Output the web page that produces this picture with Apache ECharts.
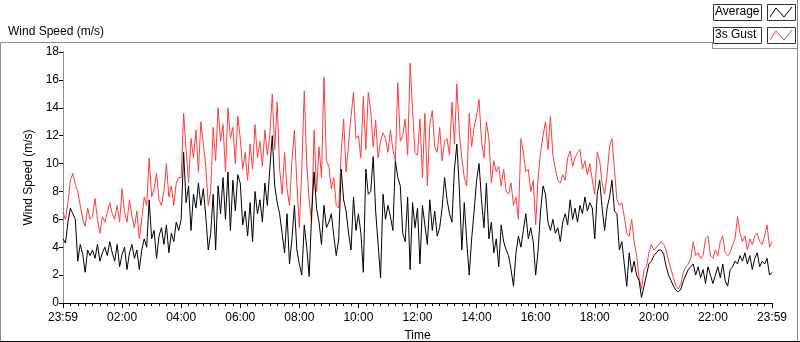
<!DOCTYPE html>
<html>
<head>
<meta charset="utf-8">
<script src="https://cdn.jsdelivr.net/npm/echarts@6/dist/echarts.min.js"></script>
<style>
  html, body { margin: 0; padding: 0; background: #fff; }
  #chart { width: 800px; height: 342px; }
</style>
</head>
<body>
<div id="chart"></div>
<script>
// one sample every 5 minutes, starting at 23:59 of the previous day
const SAMPLE_MINUTES = 5;

// 3s gust (m/s), one row per hour
const gust = [
    6.5, 6.0, 7.2, 8.8, 9.3, 8.5, 8.0, 7.0, 6.0, 5.5, 6.8, 6.0,
    6.2, 7.5, 6.0, 5.0, 6.2, 5.8, 6.5, 7.2, 6.4, 6.0, 7.0, 5.8,
    8.2, 6.5, 5.8, 7.4, 6.2, 5.4, 6.6, 4.6, 6.0, 7.6, 7.0, 10.4,
    7.6, 8.2, 9.3, 7.4, 7.0, 8.0, 10.0, 7.6, 8.4, 7.0, 8.6, 9.0,
    9.0, 13.6, 11.0, 8.6, 11.8, 10.4, 12.4, 9.4, 13.0, 11.4, 9.8, 7.0,
    8.0, 12.6, 10.2, 14.0, 11.6, 12.8, 9.4, 14.0, 11.8, 12.6, 10.0, 13.4,
    11.8, 9.6, 10.8, 8.8, 11.4, 9.6, 12.8, 10.4, 11.6, 9.8, 12.4, 10.6,
    12.0, 15.0, 11.0, 14.4, 9.6, 7.8, 10.8, 8.2, 7.0, 10.2, 12.4, 8.6,
    5.4, 9.6, 15.2, 10.0, 7.4, 5.8, 12.4, 8.0, 11.2, 9.0, 16.2, 10.2,
    9.8, 8.2, 9.0, 7.0, 6.8, 10.8, 13.2, 9.4, 11.4, 13.4, 15.1, 11.8,
    12.0, 10.4, 14.8, 11.0, 15.1, 13.8, 11.2, 13.1, 10.4, 11.6, 12.2, 11.8,
    10.8, 12.4, 11.0, 10.2, 15.8, 11.6, 12.0, 13.2, 10.6, 17.2, 13.8, 10.8,
    10.6, 13.2, 9.0, 13.6, 8.4, 12.8, 13.8, 11.2, 10.8, 12.6, 10.2, 11.6,
    11.8, 10.6, 14.4, 11.4, 15.7, 12.2, 10.4, 9.0, 8.4, 13.6, 11.2, 12.6,
    13.4, 14.6, 11.6, 10.4, 13.0, 11.8, 8.6, 10.2, 9.4, 9.8, 8.4, 9.6,
    8.0, 7.8, 8.6, 7.0, 7.6, 6.0, 11.8, 10.8, 9.4, 9.6, 8.0, 8.8,
    5.6, 9.0, 10.8, 12.0, 13.0, 11.0, 13.4, 10.6, 9.6, 8.8, 8.6, 9.2,
    8.8, 10.4, 10.9, 9.8, 10.4, 10.8, 11.0, 9.6, 10.2, 9.2, 10.0, 8.8,
    7.8, 10.8, 10.2, 8.6, 7.8, 9.2, 11.2, 11.8, 9.6, 7.4, 7.0, 7.2,
    6.2, 5.0, 4.8, 6.0, 4.4, 3.4, 1.8, 1.0, 2.4, 2.6, 3.6, 4.2,
    3.8, 4.0, 4.2, 4.4, 4.2, 3.8, 3.0, 2.4, 1.8, 1.2, 1.0, 1.4,
    2.2, 2.6, 2.8, 3.2, 4.4, 3.4, 3.6, 3.2, 3.4, 4.6, 4.8, 3.4,
    3.2, 3.8, 3.4, 4.4, 4.8, 3.6, 3.4, 3.6, 4.2, 4.6, 6.2, 5.0,
    4.4, 4.8, 3.8, 4.6, 4.2, 4.8, 5.0, 4.4, 4.2, 4.8, 5.6, 4.0,
    4.4
];

// average wind speed (m/s), one row per hour
const average = [
    4.6, 4.3, 5.8, 6.8, 6.4, 6.0, 3.0, 4.2, 3.5, 2.2, 3.8, 3.4,
    3.8, 3.2, 4.2, 3.0, 3.6, 4.0, 3.4, 4.4, 3.6, 3.0, 4.2, 2.6,
    3.5, 4.0, 2.4, 3.6, 4.2, 3.2, 3.8, 2.4, 3.8, 4.6, 4.0, 7.4,
    4.6, 5.2, 3.2, 4.8, 5.4, 4.2, 5.6, 3.6, 5.0, 4.4, 5.8, 5.2,
    6.0, 10.8, 7.2, 8.4, 5.2, 7.8, 6.8, 8.6, 7.0, 8.2, 6.2, 3.8,
    5.0, 7.8, 3.8, 8.4, 6.4, 9.0, 6.0, 9.4, 5.2, 8.8, 6.6, 9.2,
    8.6, 5.6, 6.6, 4.8, 7.2, 4.4, 8.0, 6.4, 7.4, 5.8, 8.6, 7.0,
    9.6, 12.0, 8.4, 7.2, 6.4, 5.0, 3.6, 6.4, 2.8, 4.6, 7.0, 3.8,
    2.8, 2.0, 5.6, 4.0, 1.9, 6.4, 9.4, 6.8, 5.8, 4.2, 7.0, 5.4,
    5.8, 6.4, 4.8, 3.4, 4.6, 9.6, 7.4, 6.6, 5.0, 3.8, 7.6, 5.2,
    6.4, 5.0, 2.2, 9.6, 7.8, 8.0, 10.5, 6.6, 4.2, 1.8, 7.8, 6.0,
    7.0, 6.2, 5.2, 10.2, 9.0, 8.4, 5.0, 4.4, 7.6, 2.4, 7.2, 5.4,
    6.8, 2.8, 7.0, 5.6, 4.2, 7.4, 5.2, 6.6, 4.8, 5.4, 6.8, 9.0,
    7.4, 6.4, 5.8, 9.6, 11.4, 8.2, 3.8, 7.2, 4.4, 2.0, 4.6, 6.6,
    8.8, 10.0, 7.4, 5.4, 8.6, 4.6, 5.8, 3.6, 4.6, 2.6, 5.6, 4.4,
    3.8, 3.4, 2.4, 1.2, 3.6, 4.8, 4.0, 5.2, 6.4, 4.6, 5.4, 4.4,
    2.0, 3.8, 6.6, 8.4, 7.8, 5.8, 5.2, 6.0, 5.0, 5.4, 4.4, 5.8,
    6.4, 5.6, 7.4, 6.0, 6.8, 5.8, 7.0, 6.4, 7.6, 6.6, 7.2, 6.8,
    4.6, 7.8, 8.8, 6.8, 5.2, 6.8, 7.6, 8.8, 6.6, 6.4, 3.8, 4.4,
    2.8, 1.2, 3.6, 2.2, 3.0, 2.0, 1.6, 0.4, 1.2, 2.0, 2.8, 3.0,
    3.4, 3.6, 3.8, 3.8, 3.5, 2.6, 2.0, 1.6, 1.2, 0.9, 0.8, 1.0,
    1.6, 2.0, 2.4, 2.6, 2.8, 2.0, 2.6, 1.8, 2.4, 1.4, 2.6, 2.0,
    1.4, 2.0, 2.6, 1.8, 2.8, 1.6, 1.2, 2.4, 2.6, 3.0, 2.8, 3.4,
    3.0, 3.6, 2.8, 3.4, 2.4, 3.2, 3.6, 2.6, 3.0, 2.8, 3.2, 2.0,
    2.2
];

const yTicks = [0, 2, 4, 6, 8, 10, 12, 14, 16, 18];

const FONT = 'Liberation Sans';
const FRAME = '#8c8c8c';
const RED = '#ff3c3c';

function timeLabel(min) {
    if (min === 0 || min === 1440) return '23:59';
    const h = Math.round(min / 60);
    return (h < 10 ? '0' : '') + h + ':00';
}

const toPairs = arr => arr.map((v, i) => [i * SAMPLE_MINUTES, v]);

const chart = echarts.init(document.getElementById('chart'));

chart.setOption({
    animation: false,
    backgroundColor: '#fff',
    textStyle: { fontFamily: FONT },
    title: {
        text: 'Wind Speed (m/s)',
        left: 3, top: 21,
        textStyle: { fontFamily: FONT, fontSize: 12, fontWeight: 'normal', color: '#000' }
    },
    grid: { left: 63, right: 28, top: 52, bottom: 39, outerBoundsMode: 'none' },
    xAxis: [{
        type: 'value',
        min: 0, max: 1440, interval: 120,
        name: 'Time',
        nameLocation: 'middle',
        nameGap: 27,
        nameTextStyle: { fontSize: 12, color: '#000', fontFamily: FONT },
        axisLine: { lineStyle: { color: FRAME, width: 1 } },
        axisTick: { length: 5, lineStyle: { color: '#000' } },
        minorTick: { show: true, splitNumber: 8, length: 3, lineStyle: { color: '#000' } },
        axisLabel: {
            formatter: timeLabel, fontSize: 12, color: '#000', margin: 9,
            showMinLabel: true, showMaxLabel: true
        },
        splitLine: { show: false }
    }, {
        type: 'value',
        min: 0, max: 1440,
        position: 'top',
        axisLine: { lineStyle: { color: '#000', width: 1 } },
        axisTick: { show: false },
        axisLabel: { show: false },
        splitLine: { show: false }
    }],
    yAxis: [{
        type: 'value',
        min: yTicks[0], max: yTicks[yTicks.length - 1], interval: 2,
        name: 'Wind Speed (m/s)',
        nameLocation: 'middle',
        nameGap: 22,
        nameTextStyle: { fontSize: 12, color: '#000', fontFamily: FONT },
        axisLine: { show: true, lineStyle: { color: '#000', width: 1 } },
        axisTick: { show: true, length: 4, lineStyle: { color: '#000' } },
        axisLabel: { fontSize: 12, color: '#000', margin: 4 },
        splitLine: { show: false }
    }, {
        type: 'value',
        min: 0, max: 18,
        position: 'right',
        axisLine: { show: true, lineStyle: { color: FRAME, width: 1 } },
        axisTick: { show: false },
        axisLabel: { show: false },
        splitLine: { show: false }
    }],
    series: [{
        name: '3s Gust',
        type: 'line',
        data: toPairs(gust),
        showSymbol: false,
        lineStyle: { color: RED, width: 1 },
        itemStyle: { color: RED }
    }, {
        name: 'Average',
        type: 'line',
        data: toPairs(average),
        showSymbol: false,
        lineStyle: { color: '#000', width: 1 },
        itemStyle: { color: '#000' }
    }],
    graphic: [
        // outer panel frame
        { type: 'line', shape: { x1: 0.5, y1: 42.5, x2: 712.5, y2: 42.5 }, style: { stroke: FRAME } },
        { type: 'line', shape: { x1: 712.5, y1: 42.5, x2: 712.5, y2: 48.5 }, style: { stroke: FRAME } },
        { type: 'line', shape: { x1: 712.5, y1: 48.5, x2: 797.5, y2: 48.5 }, style: { stroke: FRAME } },
        { type: 'line', shape: { x1: 0.5, y1: 42.5, x2: 0.5, y2: 341.5 }, style: { stroke: FRAME } },
        { type: 'line', shape: { x1: 797.5, y1: 0, x2: 797.5, y2: 341.5 }, style: { stroke: FRAME } },
        { type: 'line', shape: { x1: 0, y1: 341.5, x2: 800, y2: 341.5 }, style: { stroke: '#000' } },
        // legend
        { type: 'rect', shape: { x: 713.5, y: 4.5, width: 48, height: 16 }, style: { fill: '#fff', stroke: '#333' } },
        { type: 'text', left: 715, top: 6, style: { text: 'Average', font: '12px "Liberation Sans"', fill: '#000' } },
        { type: 'rect', shape: { x: 767.5, y: 4.5, width: 28, height: 16 }, style: { fill: '#fff', stroke: '#333' } },
        { type: 'polyline', shape: { points: [[770, 17], [776, 8], [784, 17], [792, 7]] }, style: { stroke: '#000', fill: null } },
        { type: 'rect', shape: { x: 713.5, y: 27.5, width: 48, height: 16 }, style: { fill: '#fff', stroke: '#333' } },
        { type: 'text', left: 715, top: 29, style: { text: '3s Gust', font: '12px "Liberation Sans"', fill: '#000' } },
        { type: 'rect', shape: { x: 767.5, y: 27.5, width: 28, height: 16 }, style: { fill: '#fff', stroke: '#333' } },
        { type: 'polyline', shape: { points: [[770, 40], [776, 31], [784, 40], [792, 30]] }, style: { stroke: RED, fill: null } }
    ]
});
</script>
</body>
</html>
